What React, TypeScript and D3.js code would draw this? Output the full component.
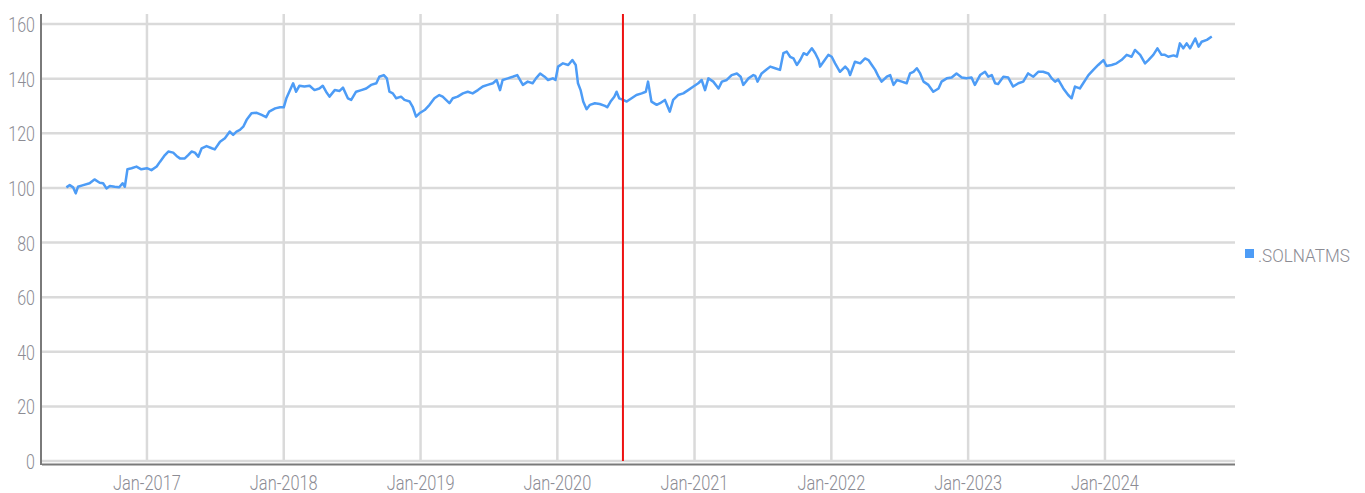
import * as d3 from "d3";

// index series
const points: [string, number][] = [
  ["2016-05-31", 100.2], ["2016-06-09", 101.0], ["2016-06-18", 100.2], ["2016-06-25", 98.0],
  ["2016-07-01", 100.4], ["2016-07-15", 101.0], ["2016-08-01", 101.7], ["2016-08-14", 103.1],
  ["2016-08-28", 101.9], ["2016-09-06", 101.7], ["2016-09-15", 99.8], ["2016-09-24", 100.7],
  ["2016-10-07", 100.4], ["2016-10-19", 100.2], ["2016-10-28", 101.7], ["2016-11-03", 100.4],
  ["2016-11-10", 106.8], ["2016-11-21", 107.2], ["2016-12-04", 107.8], ["2016-12-17", 106.8],
  ["2017-01-01", 107.2], ["2017-01-13", 106.5], ["2017-01-27", 107.8], ["2017-02-05", 109.6],
  ["2017-02-18", 112.0], ["2017-02-27", 113.3], ["2017-03-12", 112.9], ["2017-03-21", 111.7],
  ["2017-03-30", 110.8], ["2017-04-12", 110.8], ["2017-04-21", 112.0], ["2017-04-30", 113.3],
  ["2017-05-09", 112.9], ["2017-05-18", 111.4], ["2017-05-27", 114.5], ["2017-06-09", 115.3],
  ["2017-06-23", 114.5], ["2017-07-01", 114.1], ["2017-07-15", 116.9], ["2017-07-28", 118.2],
  ["2017-08-10", 120.6], ["2017-08-19", 119.4], ["2017-08-28", 120.6], ["2017-09-06", 121.2],
  ["2017-09-15", 122.4], ["2017-09-24", 124.9], ["2017-10-07", 127.3], ["2017-10-21", 127.5],
  ["2017-11-03", 126.7], ["2017-11-15", 125.9], ["2017-11-23", 127.9], ["2017-12-09", 129.1],
  ["2017-12-22", 129.5], ["2018-01-01", 129.5], ["2018-01-08", 132.8], ["2018-01-17", 135.6],
  ["2018-01-26", 138.3], ["2018-02-03", 135.2], ["2018-02-12", 137.4], ["2018-02-25", 137.1],
  ["2018-03-11", 137.4], ["2018-03-24", 135.8], ["2018-04-06", 136.4], ["2018-04-15", 137.4],
  ["2018-04-24", 135.2], ["2018-05-03", 133.4], ["2018-05-17", 135.8], ["2018-05-30", 135.5],
  ["2018-06-08", 136.7], ["2018-06-21", 132.8], ["2018-06-30", 132.2], ["2018-07-13", 135.2],
  ["2018-07-27", 135.8], ["2018-08-09", 136.4], ["2018-08-22", 137.7], ["2018-09-05", 138.3],
  ["2018-09-13", 140.7], ["2018-09-25", 141.3], ["2018-10-03", 140.1], ["2018-10-10", 135.2],
  ["2018-10-19", 134.6], ["2018-10-28", 132.8], ["2018-11-10", 133.4], ["2018-11-19", 132.2],
  ["2018-12-03", 131.6], ["2018-12-11", 129.7], ["2018-12-20", 126.1], ["2018-12-29", 127.3],
  ["2019-01-12", 128.5], ["2019-01-25", 130.4], ["2019-02-07", 132.8], ["2019-02-20", 134.0],
  ["2019-03-01", 133.4], ["2019-03-10", 132.2], ["2019-03-19", 131.0], ["2019-03-28", 132.8],
  ["2019-04-10", 133.4], ["2019-04-24", 134.6], ["2019-05-07", 135.2], ["2019-05-20", 134.6],
  ["2019-06-03", 135.8], ["2019-06-16", 137.1], ["2019-06-29", 137.7], ["2019-07-13", 138.3],
  ["2019-07-23", 139.5], ["2019-08-01", 135.8], ["2019-08-08", 139.5], ["2019-08-22", 140.1],
  ["2019-09-04", 140.7], ["2019-09-16", 141.3], ["2019-10-01", 137.7], ["2019-10-14", 138.9],
  ["2019-10-27", 138.3], ["2019-11-05", 140.1], ["2019-11-16", 141.9], ["2019-11-28", 140.7],
  ["2019-12-07", 139.5], ["2019-12-20", 140.1], ["2019-12-27", 139.5], ["2020-01-03", 144.4],
  ["2020-01-16", 145.6], ["2020-01-30", 145.0], ["2020-02-10", 146.8], ["2020-02-19", 145.0],
  ["2020-02-25", 138.3], ["2020-03-03", 135.8], ["2020-03-10", 131.6], ["2020-03-19", 128.8],
  ["2020-03-28", 130.4], ["2020-04-10", 131.0], ["2020-04-23", 130.7], ["2020-05-07", 130.0],
  ["2020-05-13", 129.5], ["2020-05-22", 131.6], ["2020-06-01", 133.4], ["2020-06-07", 135.2],
  ["2020-06-14", 132.8], ["2020-06-25", 132.2], ["2020-07-04", 131.6], ["2020-07-17", 132.8],
  ["2020-07-30", 134.0], ["2020-08-13", 134.6], ["2020-08-24", 135.2], ["2020-08-30", 138.9],
  ["2020-09-08", 131.6], ["2020-09-22", 130.4], ["2020-10-01", 131.0], ["2020-10-14", 132.2],
  ["2020-10-27", 127.9], ["2020-11-05", 132.2], ["2020-11-18", 134.0], ["2020-12-02", 134.6],
  ["2020-12-15", 135.8], ["2020-12-29", 137.1], ["2021-01-11", 138.3], ["2021-01-20", 139.5],
  ["2021-01-29", 135.8], ["2021-02-07", 140.1], ["2021-02-20", 138.9], ["2021-03-06", 136.4],
  ["2021-03-15", 138.9], ["2021-03-28", 139.5], ["2021-04-10", 141.3], ["2021-04-24", 141.9],
  ["2021-05-04", 140.7], ["2021-05-11", 137.7], ["2021-05-25", 140.1], ["2021-06-07", 141.3],
  ["2021-06-12", 141.0], ["2021-06-18", 138.9], ["2021-06-29", 141.9], ["2021-07-13", 143.4],
  ["2021-07-22", 144.4], ["2021-08-04", 143.8], ["2021-08-17", 143.2], ["2021-08-26", 149.3],
  ["2021-09-04", 149.9], ["2021-09-13", 148.0], ["2021-09-22", 147.4], ["2021-10-01", 145.0],
  ["2021-10-10", 146.8], ["2021-10-19", 149.3], ["2021-10-28", 148.7], ["2021-11-10", 151.1],
  ["2021-11-19", 149.3], ["2021-11-28", 146.8], ["2021-12-02", 144.4], ["2021-12-11", 146.2],
  ["2021-12-24", 148.7], ["2022-01-02", 148.0], ["2022-01-11", 145.6], ["2022-01-24", 142.5],
  ["2022-02-07", 144.4], ["2022-02-15", 143.2], ["2022-02-20", 141.3], ["2022-03-05", 146.2],
  ["2022-03-19", 145.6], ["2022-04-01", 147.4], ["2022-04-10", 146.8], ["2022-04-19", 145.0],
  ["2022-04-28", 143.2], ["2022-05-07", 140.7], ["2022-05-15", 138.9], ["2022-05-29", 140.7],
  ["2022-06-07", 141.3], ["2022-06-16", 137.7], ["2022-06-25", 139.5], ["2022-07-08", 138.9],
  ["2022-07-21", 138.3], ["2022-07-30", 141.9], ["2022-08-08", 142.5], ["2022-08-17", 143.8],
  ["2022-08-26", 141.9], ["2022-09-04", 138.9], ["2022-09-17", 137.7], ["2022-09-30", 135.2],
  ["2022-10-14", 136.4], ["2022-10-22", 138.9], ["2022-11-05", 140.1], ["2022-11-18", 140.4],
  ["2022-12-01", 141.9], ["2022-12-15", 140.4], ["2022-12-28", 140.1], ["2023-01-10", 140.4],
  ["2023-01-19", 137.7], ["2023-02-02", 141.3], ["2023-02-15", 142.5], ["2023-02-24", 140.7],
  ["2023-03-05", 141.3], ["2023-03-14", 138.3], ["2023-03-22", 138.0], ["2023-04-05", 140.7],
  ["2023-04-18", 140.4], ["2023-05-01", 137.1], ["2023-05-15", 138.3], ["2023-05-28", 138.9],
  ["2023-06-10", 141.9], ["2023-06-24", 140.7], ["2023-07-07", 142.5], ["2023-07-20", 142.5],
  ["2023-08-03", 141.9], ["2023-08-12", 140.1], ["2023-08-21", 138.9], ["2023-08-29", 139.7],
  ["2023-09-12", 136.4], ["2023-09-25", 134.0], ["2023-10-04", 132.8], ["2023-10-13", 137.1],
  ["2023-10-26", 136.4], ["2023-11-04", 138.3], ["2023-11-18", 141.3], ["2023-12-01", 143.2],
  ["2023-12-14", 145.0], ["2023-12-28", 146.8], ["2024-01-05", 144.6], ["2024-01-19", 145.0],
  ["2024-02-01", 145.6], ["2024-02-14", 146.8], ["2024-02-28", 148.7], ["2024-03-12", 148.0],
  ["2024-03-21", 150.5], ["2024-04-04", 148.7], ["2024-04-17", 145.6], ["2024-04-26", 146.8],
  ["2024-05-09", 148.7], ["2024-05-20", 151.1], ["2024-05-31", 148.7], ["2024-06-09", 148.7],
  ["2024-06-18", 148.0], ["2024-07-02", 148.5], ["2024-07-11", 148.1], ["2024-07-19", 152.9],
  ["2024-07-28", 151.1], ["2024-08-06", 152.9], ["2024-08-15", 151.1], ["2024-08-29", 154.7],
  ["2024-09-07", 151.7], ["2024-09-15", 153.5], ["2024-09-29", 154.2], ["2024-10-12", 155.4],
];

const seriesName = ".SOLNATMS";
const markerDate = "2020-06-24";
const xDomain = ["2016-03-27", "2024-12-13"];
const xTickDates = ["2017-01-01", "2018-01-01", "2019-01-01", "2020-01-01", "2021-01-01", "2022-01-01", "2023-01-01", "2024-01-01"];
const yTicks = [0, 20, 40, 60, 80, 100, 120, 140, 160];

const W = 1365;
const H = 493;
const left = 42;
const right = 1235;
const top = 14;
const bottom = 461;
const font = "Roboto, sans-serif";
const textColor = "#8c8c94";
const gridColor = "#dadada";
const lineColor = "#4d9cf6";

const parse = d3.timeParse("%Y-%m-%d");
const fmt = d3.timeFormat("%b-%Y");

// narrow light labels: Roboto Light squeezed horizontally
function Label(props: { x: number; y: number; anchor: string; size: number; sx: number; children: any }) {
  return (
    <text
      transform={`translate(${props.x},${props.y}) scale(${props.sx},1)`}
      textAnchor={props.anchor}
      fontFamily={font}
      fontWeight={300}
      fontSize={props.size}
      fill={textColor}
    >
      {props.children}
    </text>
  );
}

export default function App() {
  const x = d3.scaleTime().domain(xDomain.map((d) => parse(d)!)).range([left, right]);
  const y = d3.scaleLinear().domain([0, 160]).range([bottom, 24]);
  const data = points.map(([d, v]) => ({ date: parse(d)!, value: v }));
  const line = d3
    .line<{ date: Date; value: number }>()
    .x((d) => x(d.date))
    .y((d) => y(d.value));
  const mx = x(parse(markerDate)!);

  return (
    <svg width={W} height={H} style={{ position: "absolute", left: 0, top: 0, background: "#fff" }}>
      {yTicks.map((t) => (
        <line key={"h" + t} x1={left} x2={right} y1={y(t)} y2={y(t)} stroke={gridColor} strokeWidth={2.5} />
      ))}
      {xTickDates.map((d) => (
        <line key={"v" + d} x1={x(parse(d)!)} x2={x(parse(d)!)} y1={top} y2={bottom} stroke={gridColor} strokeWidth={2.5} />
      ))}
      <line x1={left - 1} x2={left - 1} y1={top} y2={465} stroke="#7a7a7a" strokeWidth={2} />
      <line x1={left} x2={right} y1={464.5} y2={464.5} stroke="#7a7a7a" strokeWidth={2} />
      {yTicks.map((t) => (
        <Label key={"yl" + t} x={35} y={y(t) + 8} anchor="end" size={20} sx={0.8}>
          {t}
        </Label>
      ))}
      {xTickDates.map((d) => (
        <Label key={"xl" + d} x={x(parse(d)!)} y={490} anchor="middle" size={20} sx={0.82}>
          {fmt(parse(d)!)}
        </Label>
      ))}
      <path d={line(data) ?? ""} fill="none" stroke={lineColor} strokeWidth={2.5} strokeLinejoin="round" />
      <line x1={mx} x2={mx} y1={top} y2={bottom} stroke="#ee1111" strokeWidth={2} />
      <rect x={1245} y={249} width={9} height={9} fill={lineColor} />
      <Label x={1258} y={262} anchor="start" size={18} sx={0.95}>
        {seriesName}
      </Label>
    </svg>
  );
}
